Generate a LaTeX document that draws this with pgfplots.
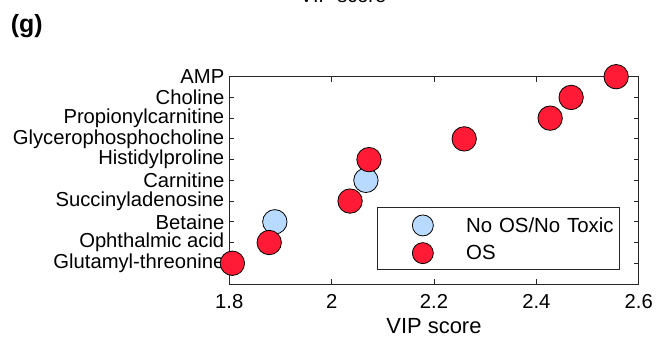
\documentclass[border=0pt]{standalone}
\usepackage{pgfplots}
\pgfplotsset{compat=1.18}
\usepackage{fontspec}
\setmainfont{Liberation Sans}
\definecolor{osred}{HTML}{FF1A35}
\definecolor{nobl}{HTML}{B8DAFF}
\definecolor{axc}{HTML}{262626}
\begin{document}
\begin{tikzpicture}
\begin{axis}[
  at={(0bp,0bp)}, anchor=south west,
  scale only axis,
  width=409.4bp, height=207.3bp,
  xmin=1.8, xmax=2.6, ymin=0, ymax=10,
  xtick={1.8,2,2.2,2.4,2.6},
  xticklabels={1.8,2,2.2,2.4,2.6},
  ytick={1,...,10},
  yticklabels={Glutamyl-threonine,Ophthalmic acid,Betaine,Succinyladenosine,Carnitine,Histidylproline,Glycerophosphocholine,Propionylcarnitine,Choline,AMP},
  tick align=inside,
  major tick length=5bp,
  tick style={axc, line width=0.8bp},
  axis line style={axc, line width=0.8bp},
  ticklabel style={font=\fontsize{20.3}{22}\selectfont, text=black},
  yticklabel style={xshift=-1.5bp},
  xticklabel style={yshift=-7bp},
  xlabel={VIP score},
  xlabel style={font=\fontsize{22}{24}\selectfont, yshift=-3bp},
  clip=false,
  legend style={
    at={(0.954,0.07)}, anchor=south east,
    draw=axc, line width=0.8bp,
    inner xsep=0bp, inner ysep=3.3bp,
    font=\fontsize{20.5}{22}\selectfont,
    nodes={text height=21.7bp, text depth=6bp, inner ysep=0bp, inner xsep=0bp, text width=153.3bp, align=left},
    /tikz/every odd column/.style={column sep=32.8bp},
    legend cell align=left,
  },
  legend image code/.code={
    \path (0bp,0bp) (45bp,0bp);
    \draw[#1, mark size=10.5bp] plot coordinates {(45bp,-1.2bp)};
  },
]
\addplot[only marks, mark=*, mark size=12.2bp, mark options={fill=nobl, draw=black, line width=0.8bp}]
  coordinates {(1.889,3) (2.067,5)};
\addlegendentry{No OS/No Toxic}
\addplot[only marks, mark=*, mark size=12.2bp, mark options={fill=osred, draw=black, line width=0.8bp}]
  coordinates {(1.806,1) (1.878,2) (2.036,4) (2.073,6) (2.259,7) (2.427,8) (2.468,9) (2.556,10)};
\addlegendentry{OS}
\end{axis}
\node[font=\bfseries\fontsize{25}{28}\selectfont, anchor=base west] at (-222bp,251bp) {(g)};
\node[font=\fontsize{20}{22}\selectfont, anchor=base] at (113.7bp,281bp) {VIP score};
\pgfresetboundingbox
\useasboundingbox (-229.3bp,-61bp) rectangle (434.7bp,284bp);
\end{tikzpicture}
\end{document}
